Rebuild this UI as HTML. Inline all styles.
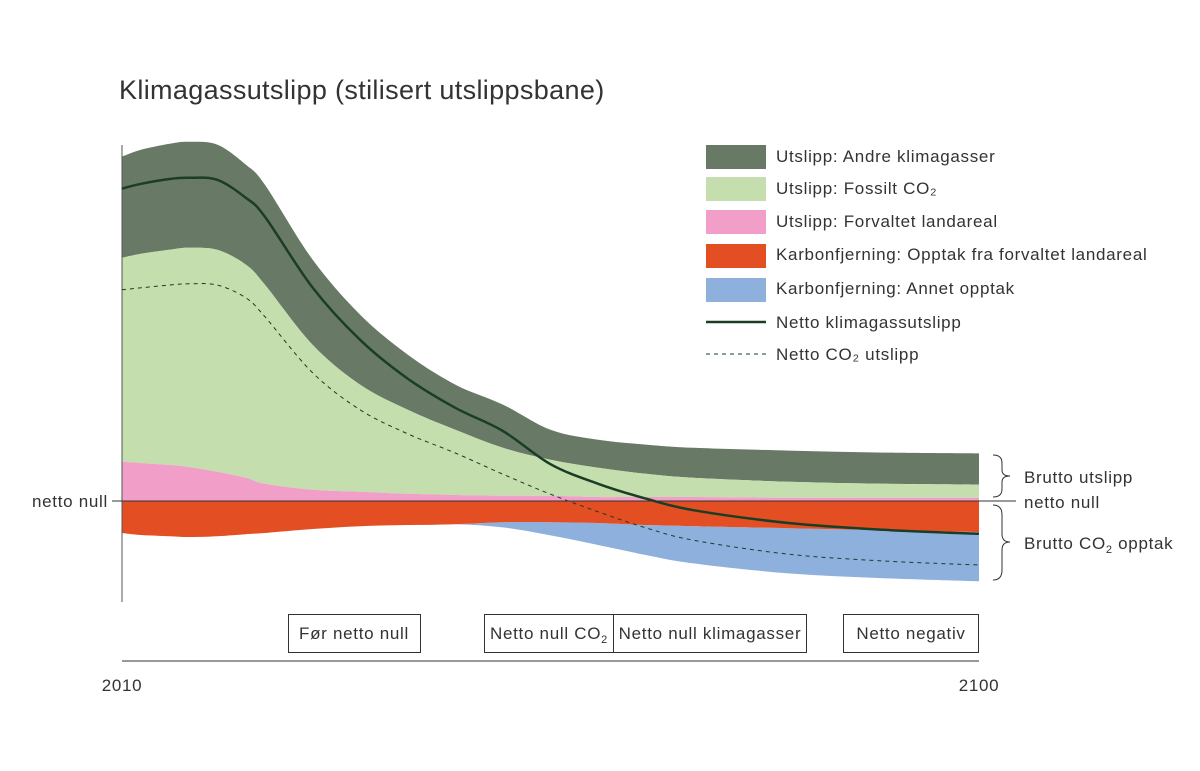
<!DOCTYPE html>
<html><head><meta charset="utf-8"><style>
body{margin:0;background:#fff;}
svg text{font-family:"Liberation Sans",sans-serif;fill:#333;}
.t{font-size:17px;letter-spacing:0.7px;}
</style></head><body>
<svg id="chart" width="1200" height="766" viewBox="0 0 1200 766" xmlns="http://www.w3.org/2000/svg">
<text x="119" y="99" font-size="27" letter-spacing="0.35">Klimagassutslipp (stilisert utslippsbane)</text>
<g id="areas"></g>
<line x1="122" y1="145" x2="122" y2="602" stroke="#555" stroke-width="1"/>
<line x1="112" y1="501" x2="1016" y2="501" stroke="#333" stroke-width="1"/>
<text class="t" x="108" y="507" text-anchor="end">netto null</text>
<g id="lines"></g>
<g>
<rect x="706" y="145" width="60" height="24" fill="#687a65"/><text class="t" x="776" y="162">Utslipp: Andre klimagasser</text>
<rect x="706" y="177" width="60" height="24" fill="#c4dead"/><text class="t" x="776" y="194">Utslipp: Fossilt CO₂</text>
<rect x="706" y="210" width="60" height="24" fill="#f19fc8"/><text class="t" x="776" y="227">Utslipp: Forvaltet landareal</text>
<rect x="706" y="244" width="60" height="24" fill="#e34e22"/><text class="t" x="776" y="260">Karbonfjerning: Opptak fra forvaltet landareal</text>
<rect x="706" y="278" width="60" height="24" fill="#8eb0dd"/><text class="t" x="776" y="294">Karbonfjerning: Annet opptak</text>
<line x1="706" y1="322" x2="766" y2="322" stroke="#1b3d26" stroke-width="2.5"/><text class="t" x="776" y="328">Netto klimagassutslipp</text>
<line x1="706" y1="354" x2="766" y2="354" stroke="#1b3d26" stroke-width="1" stroke-dasharray="4,4"/><text class="t" x="776" y="360">Netto CO₂ utslipp</text>
</g>
<g fill="none" stroke="#333">
<path d="M993,455 Q1002,455 1002,463 L1002,470 Q1002,476 1010,476 Q1002,476 1002,482 L1002,489 Q1002,497 993,497"/>
<path d="M993,505 Q1002,505 1002,515 L1002,534 Q1002,542 1010,542 Q1002,542 1002,550 L1002,570 Q1002,580 993,580"/>
</g>
<text class="t" x="1024" y="483">Brutto utslipp</text>
<text class="t" x="1024" y="508">netto null</text>
<text class="t" x="1024" y="549">Brutto CO<tspan font-size="11" dy="4">2</tspan><tspan dy="-4"> opptak</tspan></text>
<g fill="none" stroke="#333" stroke-width="1">
<rect x="288.5" y="614.5" width="132" height="38"/>
<rect x="484.5" y="614.5" width="129" height="38"/>
<rect x="613.5" y="614.5" width="193" height="38"/>
<rect x="843.5" y="614.5" width="135" height="38"/>
</g>
<text class="t" x="354" y="639" text-anchor="middle">Før netto null</text>
<text class="t" x="490" y="639">Netto null CO<tspan font-size="11" dy="4">2</tspan></text>
<text class="t" x="710" y="639" text-anchor="middle">Netto null klimagasser</text>
<text class="t" x="911" y="639" text-anchor="middle">Netto negativ</text>
<line x1="122" y1="661" x2="979" y2="661" stroke="#333"/>
<text class="t" x="122" y="691" text-anchor="middle">2010</text>
<text class="t" x="979" y="691" text-anchor="middle">2100</text>
</svg>
<script>
const years = [2010,2012,2015,2017,2020,2023,2025,2030,2035,2040,2045,2050,2055,2060,2065,2070,2080,2090,2100];
const otherGhg = [25.3,26,26.5,26.5,26.3,25,25,21.3,17.5,13.8,11.3,10.8,7.5,7,7.3,7.5,7.8,7.8,7.8];
const fossilCo2 = [51,52.3,53.8,54.8,55.5,53.3,49.8,36.3,26.8,21,16.3,12,9,7.3,5.8,4.8,4,3.5,3.3];
const landEmis = [9.8,9.5,9,8.5,7.3,5.8,4.3,2.8,2.3,1.8,1.5,1.3,1.3,1,1,1,0.8,0.8,0.8];
const landSink = [8,8.5,8.8,9,8.8,8.3,8,7,6.3,6,5.8,5.3,5.3,5.5,6,6.3,6.8,7.3,7.8];
const otherSink = [0,0,0,0,0,0,0,0,0,0,0,1.3,3.3,5.5,7.5,9.3,11.3,12,12.3];

const xS = y => 122 + (y-2010)*(979-122)/90;
const yS = v => 501 - v*4;
const NS = "http://www.w3.org/2000/svg";

function curve(pts){
  let d = "";
  for(let i=0;i<pts.length-1;i++){
    const p0=pts[Math.max(0,i-1)],p1=pts[i],p2=pts[i+1],p3=pts[Math.min(pts.length-1,i+2)];
    const c1=[p1[0]+(p2[0]-p0[0])/6,p1[1]+(p2[1]-p0[1])/6];
    const c2=[p2[0]-(p3[0]-p1[0])/6,p2[1]-(p3[1]-p1[1])/6];
    d += " C"+c1[0]+","+c1[1]+" "+c2[0]+","+c2[1]+" "+p2[0]+","+p2[1];
  }
  return d;
}
function band(lo, hi){
  const top = years.map((y,i)=>[xS(y),yS(hi[i])]);
  const bot = years.map((y,i)=>[xS(y),yS(lo[i])]).reverse();
  return "M"+top[0][0]+","+top[0][1]+curve(top)+" L"+bot[0][0]+","+bot[0][1]+curve(bot)+" Z";
}
const zero = years.map(()=>0);
const s1 = landEmis.slice();
const s2 = years.map((y,i)=>landEmis[i]+fossilCo2[i]);
const s3 = years.map((y,i)=>s2[i]+otherGhg[i]);
const r1 = landSink.map(v=>-v);
const r2 = years.map((y,i)=>-(landSink[i]+otherSink[i]));
const areasG = document.getElementById('areas');
const bands = [
  [s2,s3,'#687a65','area-other-ghg'],
  [s1,s2,'#c4dead','area-fossil-co2'],
  [zero,s1,'#f19fc8','area-land-emissions'],
  [r2,r1,'#8eb0dd','area-other-removal'],
  [r1,zero,'#e34e22','area-land-removal']
];
bands.forEach(b=>{
  const p=document.createElementNS(NS,'path');
  p.setAttribute('d',band(b[0],b[1]));
  p.setAttribute('fill',b[2]);
  
  
  areasG.appendChild(p);
});
const net = years.map((y,i)=>s3[i]+r2[i]);
const netCo2 = years.map((y,i)=>s2[i]+r2[i]);
const linesG = document.getElementById('lines');
function line(vals, w, dash, name){
  const pts = years.map((y,i)=>[xS(y),yS(vals[i])]);
  const p=document.createElementNS(NS,'path');
  p.setAttribute('d',"M"+pts[0][0]+","+pts[0][1]+curve(pts));
  p.setAttribute('fill','none');
  p.setAttribute('stroke','#1b3d26');
  p.setAttribute('stroke-width',w);
  if(dash) p.setAttribute('stroke-dasharray',dash);
  
  
  linesG.appendChild(p);
}
line(netCo2,1,"4,4",'net-co2-line');
line(net,2.5,null,'net-ghg-line');
</script>
</body></html>
